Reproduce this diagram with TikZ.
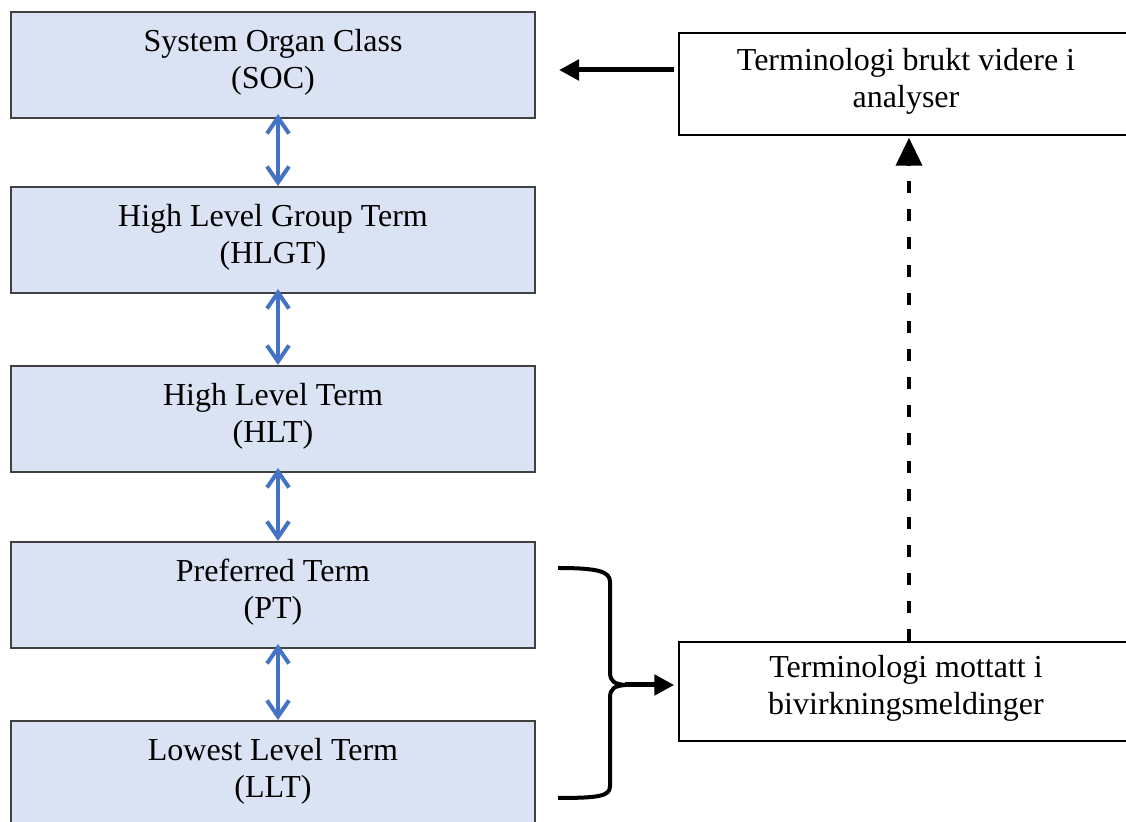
\documentclass[tikz,border=0pt]{standalone}
\usepackage{fontspec}
\setmainfont{Liberation Serif}
\usetikzlibrary{arrows.meta}
\definecolor{boxfill}{HTML}{DAE3F3}
\definecolor{boxline}{HTML}{404040}
\definecolor{linkblue}{HTML}{4472C4}

\begin{document}
\begin{tikzpicture}[x=0.5pt,y=-0.5pt,
		levelbox/.style={draw=boxline,line width=1pt,fill=boxfill,minimum width=262pt,minimum height=53pt},
		notebox/.style={draw,line width=0.75pt,fill=white,minimum width=227pt},
		boxtext/.style={align=center,font=\fontsize{16}{18.5}\selectfont},
		link/.style={linkblue,line width=2pt,{Straight Barb[length=8pt,width=11pt]}-{Straight Barb[length=8pt,width=11pt]}},
		bigarrow/.style={line width=2.5pt,-{Triangle[length=10pt,width=10pt]}}]
			\useasboundingbox (0,0) rectangle (1126,822);
			\clip (0,0) rectangle (1126,822);
			% MedDRA levels
			\node [levelbox](soc) at (273,65){};
			\node [levelbox](hlgt) at (273,240){};
			\node [levelbox](hlt) at (273,419){};
			\node [levelbox](pterm) at (273,595){};
			\node [levelbox](llt) at (273,774){};
			\node [boxtext] at ([yshift=1.5pt]soc.center){System Organ Class\\(SOC)};
			\node [boxtext] at ([yshift=1.5pt]hlgt.center){High Level Group Term\\(HLGT)};
			\node [boxtext] at ([yshift=1.5pt]hlt.center){High Level Term\\(HLT)};
			\node [boxtext] at ([yshift=1.5pt]pterm.center){Preferred Term\\(PT)};
			\node [boxtext] at ([yshift=1.5pt]llt.center){Lowest Level Term\\(LLT)};
			\foreach \a/\b in {soc/hlgt,hlgt/hlt,hlt/pterm,pterm/llt}
				\draw [link,shorten <=-2.5pt]([xshift=2.5pt]\a.south)--([xshift=2.5pt]\b.north);
			% right side
			\node [notebox,minimum height=51pt](analyse) at (906,84){};
			\node [notebox,minimum height=49.5pt](mottatt) at (906,691.5){};
			\node [boxtext] at ([yshift=1.5pt]analyse.center){Terminologi brukt videre i\\analyser};
			\node [boxtext] at ([yshift=1.5pt]mottatt.center){Terminologi mottatt i\\bivirkningsmeldinger};
			\draw [bigarrow,shorten <=2pt,shorten >=11.5pt]([yshift=7pt]analyse.west)--([yshift=-2.5pt]soc.east);
			\draw [line width=2pt,dash pattern=on 6pt off 8pt,-{Triangle[length=14pt,width=13pt]},shorten >=1pt]
				([xshift=1.5pt]mottatt.north)--([xshift=1.5pt]analyse.south);
			% brace
			\coordinate (bracetip) at (625,685);
			\draw [line width=2pt](558,568) .. controls (600,568) and (610,572) .. (610,582) -- (610,672)
				.. controls (610,682) and (615,684) .. (bracetip)
				.. controls (615,686) and (610,688) .. (610,698) -- (610,786)
				.. controls (610,796) and (600,798) .. (558,798);
			\draw [bigarrow,shorten >=2pt](bracetip)--(mottatt.west |- bracetip);
		\end{tikzpicture}
\end{document}
